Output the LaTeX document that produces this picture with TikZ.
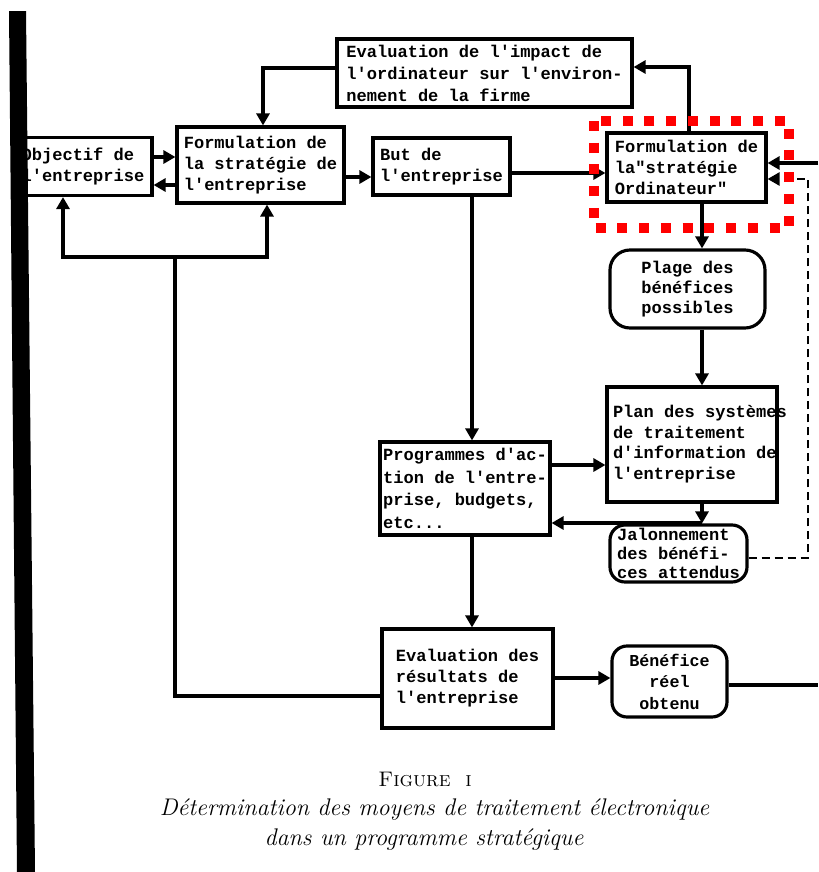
\documentclass[tikz,border=0pt]{standalone}
\usepackage{fontspec}
\setmonofont{Liberation Mono}
\usetikzlibrary{arrows.meta}
\begin{document}
\begin{tikzpicture}[x=0.02cm,y=-0.02cm,
  box/.style={draw,line width=1.8pt,fill=white,inner sep=0pt,align=left,
    font=\ttfamily\bfseries\fontsize{9.7}{12}\selectfont},
  sz/.style 2 args={minimum width=#1*0.02cm,minimum height=#2*0.02cm},
  tip/.style={-{Triangle[length=0.24cm,width=0.26cm]}},
  ar/.style={line width=1.8pt,tip},
  ln/.style={line width=1.8pt},
  dsh/.style={line width=1.4pt,dash pattern=on 0.16cm off 0.1cm},
  captext/.style={font=\fontsize{13.7}{16}\selectfont\itshape,inner sep=0pt},
]
\useasboundingbox (0,0) rectangle (818,872);
\fill[white] (0,0) rectangle (818,872);

% boxes
\node[box,sz={138}{58}] (obj) at (83,166.5) {Objectif de\\l'entreprise};
\node[box,sz={167}{76}] (form) at (260.5,165) {Formulation de\\la stratégie de\\l'entreprise};
\node[box,sz={295}{68},font=\ttfamily\bfseries\fontsize{9.7}{12.5}\selectfont] (impact) at (484.5,73) {Evaluation de l'impact de\\l'ordinateur sur l'environ-\\nement de la firme};
\node[box,sz={137}{57}] (but) at (441.5,166.5) {But de\\l'entreprise};
\node[box,sz={159}{69}] (formord) at (686.5,167.5) {Formulation de\\la"stratégie\\Ordinateur"};
\node[box,sz={155}{78},rounded corners=0.4cm,font=\ttfamily\bfseries\fontsize{9.7}{11.4}\selectfont] (plage) at (687.5,289) {Plage des\\bénéfices\\possibles};
\node[box,sz={170}{115},font=\ttfamily\bfseries\fontsize{9.7}{11.7}\selectfont] (plan) at (692,444.5) {\makebox[3.16cm][l]{\begin{tabular}{@{}l@{}}Plan des systèmes\\de traitement\\d'information de\\l'entreprise\end{tabular}}};
\node[box,sz={170}{93},font=\ttfamily\bfseries\fontsize{9.7}{12.8}\selectfont] (prog) at (465,488.5) {Programmes d'ac-\\tion de l'entre-\\prise, budgets,\\etc...};
\node[box,sz={137}{57},rounded corners=0.3cm,font=\ttfamily\bfseries\fontsize{9.7}{10.8}\selectfont] (jal) at (678.5,553.5) {Jalonnement\\des bénéfi-\\ces attendus};
\node[box,sz={171}{99}] (eval) at (467.5,678.5) {Evaluation des\\résultats de\\l'entreprise};
\node[box,sz={115}{71},rounded corners=0.3cm,align=center,font=\ttfamily\bfseries\fontsize{9.5}{12.2}\selectfont] (bene) at (669.5,681.5) {Bénéfice\\réel\\obtenu};

% connectors
\draw[ar] (impact.west |- 0,68) -| (form.north -| 263,0);
\draw[ar] (formord.north -| 689,0) |- (impact.east |- 0,67);
\draw[ar] (obj.east |- 0,157) -- (form.west |- 0,157);
\draw[ar] (form.west |- 0,185) -- (obj.east |- 0,185);
\draw[ar] (form.east |- 0,177) -- (but.west |- 0,177);
\draw[ar] (but.east |- 0,173) -- (formord.west |- 0,173);
\coordinate (r1) at (818,163);
\draw[ar] (r1) -- (formord.east |- r1);
\draw[dsh,tip] (jal.east |- 0,558) -| (808,179) -- (formord.east |- 0,179);
\draw[ar] (formord.south -| 702,0) -- (plage.north -| 702,0);
\draw[ar] (plage.south -| 702,0) -- (plan.north -| 702,0);
\draw[ar] (but.south -| 472,0) -- (prog.north -| 472,0);
\draw[ar] (prog.east |- 0,465) -- (plan.west |- 0,465);
\draw[ar] (plan.south -| 702,0) -- (jal.north -| 702,0);
\coordinate (jn) at (702,523);
\draw[ar] (jn) -- (prog.east |- jn);
\draw[ar] (prog.south -| 472,0) -- (eval.north -| 472,0);
\coordinate (fb) at (175,257);
\draw[ln] (eval.west |- 0,696) -| (fb);
\draw[ar] (fb) -| (obj.south -| 63,0);
\draw[ar] (fb) -| (form.south -| 267,0);
\draw[ar] (eval.east |- 0,678) -- (bene.west |- 0,678);
\coordinate (r2) at (818,685);
\draw[ln] (bene.east |- r2) -- (r2);

% black binding bar
\fill[black] (9,11) -- (26,11) -- (35,872) -- (17,872) -- cycle;

% caption
\node[font=\fontsize{12}{14}\selectfont,inner sep=0pt] (fig) at (425,779) {\textsc{Figure}\hspace{0.7em}\textsc{i}};
\node[captext] (cap1) at (434.5,810) {Détermination des moyens de traitement électronique};
\node[captext] (cap2) at (424,840) {dans un programme stratégique};

% red highlight
\draw[red,line width=0.2cm,dash pattern=on 0.2cm off 0.235cm] (594,121) rectangle (789,228);
\end{tikzpicture}
\end{document}
